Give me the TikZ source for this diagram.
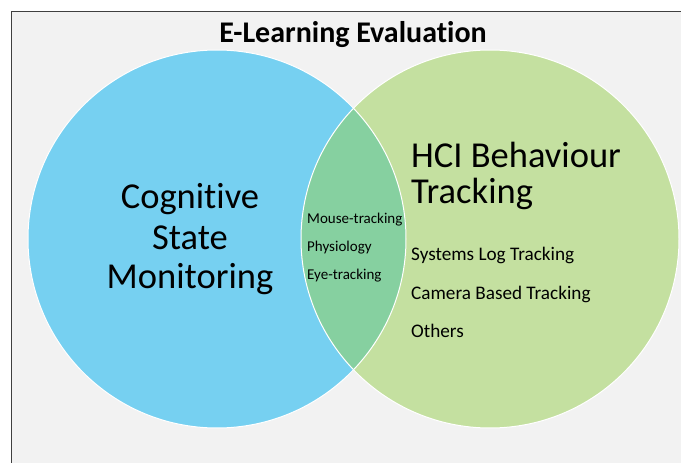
\documentclass[tikz,border=0pt]{standalone}
\usepackage{fontspec}
\setmainfont{Carlito}[Ligatures=NoCommon]
\definecolor{bgray}{RGB}{242,242,242}
\definecolor{frameline}{RGB}{64,64,64}
\definecolor{cogblue}{RGB}{118,208,241}
\definecolor{hcigreen}{RGB}{196,224,160}
\definecolor{overlapgreen}{RGB}{134,208,160}
\begin{document}
\begin{tikzpicture}[x=1pt,y=-1pt,
  setcircle/.style={draw=white,line width=1pt},
  bigtext/.style={font=\fontsize{36.5}{44}\selectfont,text=black,inner sep=0pt},
  midtext/.style={font=\fontsize{19.2}{23}\selectfont,text=black,inner sep=0pt,anchor=base west},
  smalltext/.style={font=\fontsize{15}{18}\selectfont,text=black,inner sep=0pt,anchor=base west}]
  % canvas and frame
  \fill[white] (0,0) rectangle (681,463);
  \useasboundingbox (0,0) rectangle (681,463);
  \fill[bgray] (11.5,11.5) rectangle (681,463);
  \draw[frameline,line width=1pt] (11.5,463) -- (11.5,11.5) -- (681,11.5);
  % the two sets
  \fill[cogblue] (217,239) circle (189);
  \fill[hcigreen] (490,239) circle (189);
  \begin{scope}
    \clip (217,239) circle (189);
    \fill[overlapgreen] (490,239) circle (189);
  \end{scope}
  \draw[setcircle] (217,239) circle (189);
  \draw[setcircle] (490,239) circle (189);
  % title
  \node[font=\fontsize{30}{34}\selectfont\bfseries,inner sep=0pt,anchor=base] (title) at (353,42) {E-Learning Evaluation};
  % left set label
  \node[bigtext,anchor=base] (cog1) at (190,208) {Cognitive};
  \node[bigtext,anchor=base] (cog2) at (190,249) {State};
  \node[bigtext,anchor=base] (cog3) at (190,288) {Monitoring};
  % right set label and items
  \node[bigtext,anchor=base west] (hci1) at (411,167) {HCI Behaviour};
  \node[bigtext,anchor=base west] (hci2) at (411,203) {Tracking};
  \node[midtext] (sys) at (411,260) {Systems Log Tracking};
  \node[midtext] (cam) at (411,299) {Camera Based Tracking};
  \node[midtext] (oth) at (411,337) {Others};
  % shared items
  \node[smalltext] (mouse) at (307,223) {Mouse-tracking};
  \node[smalltext] (phys) at (307,251) {Physiology};
  \node[smalltext] (eye) at (307,279) {Eye-tracking};
\end{tikzpicture}
\end{document}
